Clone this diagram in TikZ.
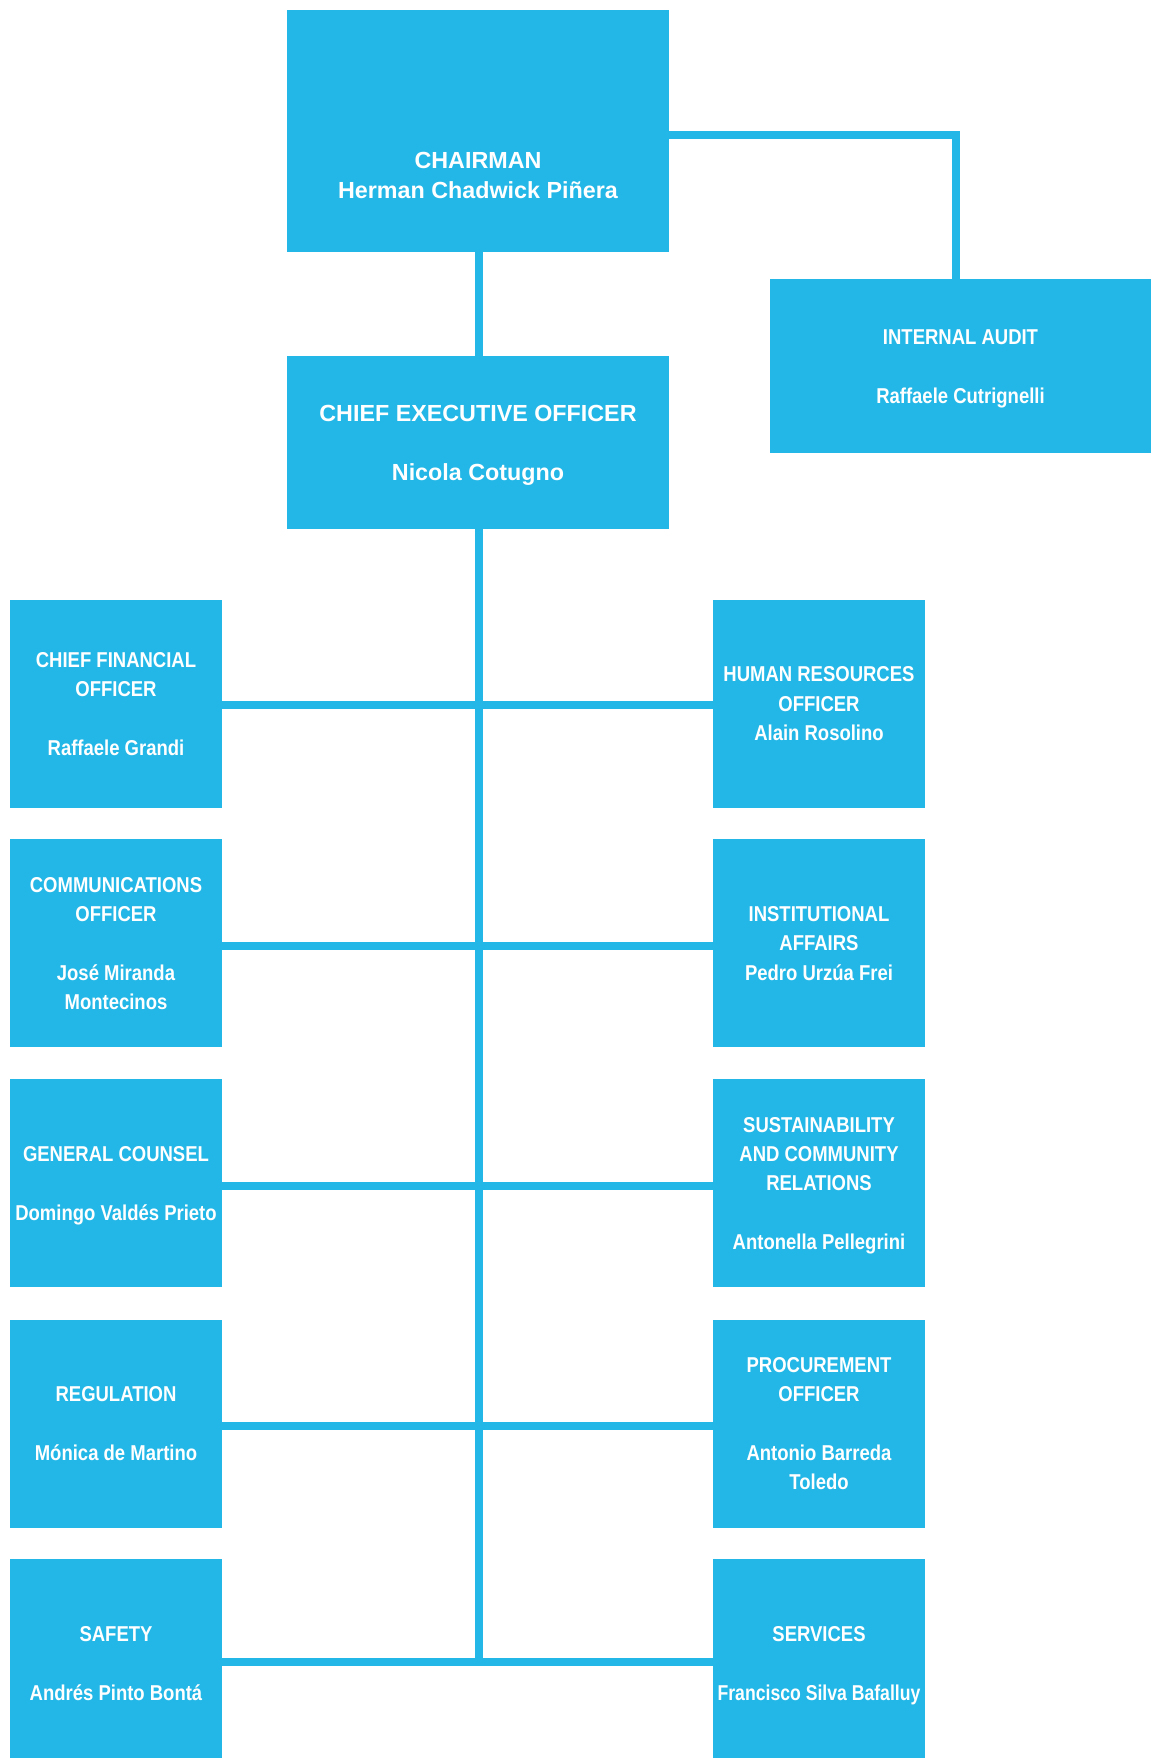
\documentclass[tikz,border=0pt]{standalone}
\usepackage{fontspec}
\setmainfont{Liberation Sans}
\newfontfamily\deptfam{Liberation Sans}[FakeStretch=0.86]
\newfontfamily\deptnarrow{Liberation Sans}[FakeStretch=0.82]
\definecolor{orgblue}{RGB}{35,183,231}
% struts that fix the top of the first line and the bottom of the last line
\newcommand{\fsttop}{\rule{0pt}{21.4pt}}
\newcommand{\ceotop}{\rule{0pt}{22.7pt}}
\newcommand{\lstbot}{\rule[-6pt]{0pt}{6pt}}
\tikzset{
  box/.style={fill=orgblue, draw=none, inner sep=0pt, text=white, align=center},
  deptfont/.style={text=white, inner sep=0pt, align=center,
    font=\deptfam\bfseries\fontsize{21.5}{29.3}\selectfont},
  dept/.style={box, deptfont, minimum width=212pt, minimum height=208pt},
  topfont/.style={text=white, inner sep=0pt, align=center,
    font=\bfseries\fontsize{23.3}{29.6}\selectfont},
  link/.style={draw=orgblue, line width=8pt, line join=miter},
}
\begin{document}
\begin{tikzpicture}[x=1pt,y=-1pt]
\useasboundingbox (0,0) rectangle (1157,1758);
\clip (0,0) rectangle (1157,1758);

% top level
\node[box, minimum width=382pt, minimum height=242pt] (chair) at (478,131) {};
\node[topfont] (chairtext) at (478,175.5) {CHAIRMAN\\Herman Chadwick Piñera};
\node[box, minimum width=382pt, minimum height=173pt, topfont] (ceo) at (478,442.5)
  {\ceotop CHIEF EXECUTIVE OFFICER\\[29pt]Nicola Cotugno\lstbot};
\node[box, minimum width=381pt, minimum height=174pt, deptfont] (audit) at (960.5,366)
  {\fsttop INTERNAL AUDIT\\[29.3pt]Raffaele Cutrignelli\lstbot};

% left column
\node[dept] (cfo) at (116,703.5) {\fsttop CHIEF FINANCIAL\\OFFICER\\[29.3pt]Raffaele Grandi\lstbot};
\node[dept] (comm) at (116,943) {\fsttop COMMUNICATIONS\\OFFICER\\[29.3pt]José Miranda\\Montecinos\lstbot};
\node[dept] (counsel) at (116,1183) {\fsttop GENERAL COUNSEL\\[29.3pt]Domingo Valdés Prieto\lstbot};
\node[dept] (reg) at (116,1423.5) {\fsttop REGULATION\\[29.3pt]Mónica de Martino\lstbot};
\node[dept] (safety) at (116,1663) {\fsttop SAFETY\\[29.3pt]Andrés Pinto Bontá\lstbot};

% right column
\node[dept] (hr) at (819,703.5) {\fsttop HUMAN RESOURCES\\OFFICER\\Alain Rosolino\lstbot};
\node[dept] (inst) at (819,943) {\fsttop INSTITUTIONAL\\AFFAIRS\\Pedro Urzúa Frei\lstbot};
\node[dept] (sust) at (819,1183) {\fsttop SUSTAINABILITY\\AND COMMUNITY\\RELATIONS\\[29.3pt]Antonella Pellegrini\lstbot};
\node[dept] (proc) at (819,1423.5) {\fsttop PROCUREMENT\\OFFICER\\[29.3pt]Antonio Barreda\\Toledo\lstbot};
\node[dept] (serv) at (819,1663) {\fsttop SERVICES\\[29.3pt]{\deptnarrow\bfseries Francisco Silva Bafalluy}\lstbot};

% connectors
\coordinate (spineend) at (478.5,1662);
\draw[link] ([xshift=0.5pt]chair.south) -- ([xshift=0.5pt]ceo.north);
\draw[link] ([xshift=0.5pt]ceo.south) -- (spineend);
\draw[link] ([yshift=-4pt]chair.east) -| ([xshift=-4.5pt]audit.north);
\draw[link] ([yshift=-1.5pt]cfo.east) -- ([yshift=-1.5pt]hr.west);
\draw[link] ([yshift=-3pt]comm.east) -- ([yshift=-3pt]inst.west);
\draw[link] ([yshift=-3pt]counsel.east) -- ([yshift=-3pt]sust.west);
\draw[link] ([yshift=-2.5pt]reg.east) -- ([yshift=-2.5pt]proc.west);
\draw[link] ([yshift=1pt]safety.east) -- ([yshift=1pt]serv.west);
\end{tikzpicture}
\end{document}
